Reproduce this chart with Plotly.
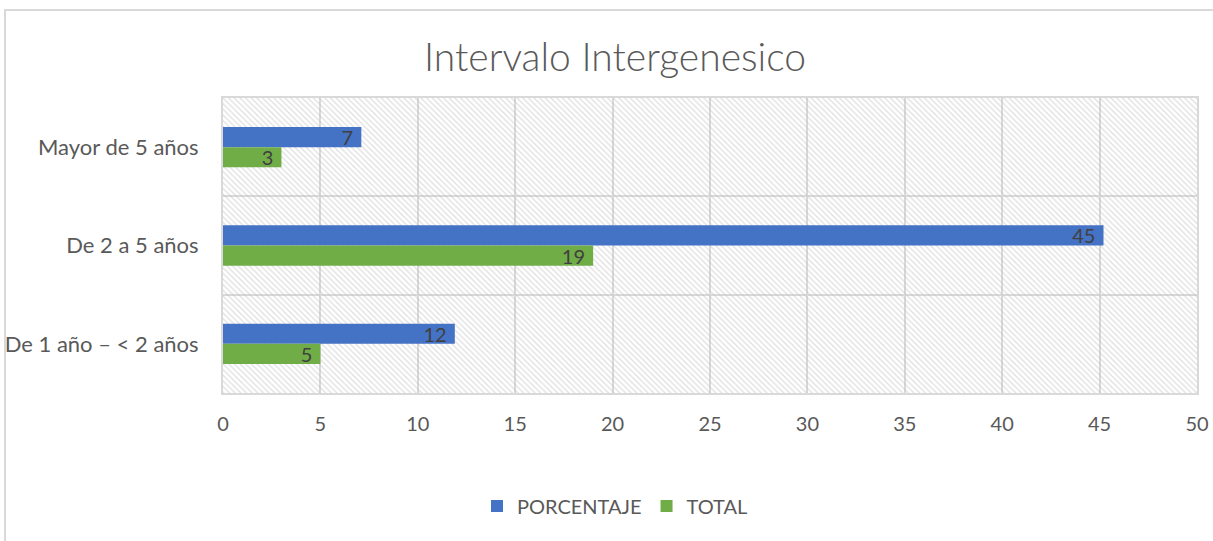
import plotly.graph_objects as go

categories = ["De 1 año – < 2 años", "De 2 a 5 años", "Mayor de 5 años"]
porcentaje = [11.9, 45.2, 7.1]
total = [5, 19, 3]
x_max = 50
x_tick_step = 5

FONT = "Lato"
TEXT = "#595959"
GRID = "#D9D9D9"
BLUE = "#4472C4"
GREEN = "#70AD47"

fig = go.Figure()

# hatched plot-area background
fig.add_trace(go.Bar(
    y=categories, x=[x_max] * len(categories), orientation="h",
    width=1, showlegend=False, hoverinfo="skip",
    marker=dict(color="rgba(0,0,0,0)", line=dict(width=0),
                pattern=dict(shape="\\", size=4, solidity=0.3,
                             fgcolor="#BDBDBD", bgcolor="rgba(0,0,0,0)",
                             fillmode="overlay")),
))

bar_w = 0.205
label_font = dict(family=FONT, size=20, color="#404040")
fig.add_trace(go.Bar(
    name="PORCENTAJE", y=categories, x=porcentaje, orientation="h",
    width=bar_w, offset=0, marker=dict(color=BLUE, line=dict(width=0)),
    texttemplate="%{x:.0f}\u00a0", textposition="inside", insidetextanchor="end",
    textangle=0, textfont=label_font, constraintext="none",
))
fig.add_trace(go.Bar(
    name="TOTAL", y=categories, x=total, orientation="h",
    width=bar_w, offset=-bar_w, marker=dict(color=GREEN, line=dict(width=0)),
    texttemplate="%{x:.0f}\u00a0", textposition="inside", insidetextanchor="end",
    textangle=0, textfont=label_font, constraintext="none",
))

fig.update_layout(
    width=1213, height=541,
    margin=dict(l=223, r=16, t=98, b=148, autoexpand=False),
    paper_bgcolor="white", plot_bgcolor="white",
    barmode="overlay",
    font=dict(family=FONT, color=TEXT, size=20),
    title=dict(text="Intervalo Intergenesico", x=(615 - 223) / 974, xref="paper",
               xanchor="center", y=1 - 57 / 541, yanchor="middle",
               font=dict(family=FONT, size=39, color=TEXT, weight=300)),
    legend=dict(orientation="h", x=(615 - 223) / 974, xanchor="center",
                y=-(506 - 393) / 295, yanchor="middle",
                font=dict(family=FONT, size=20, color=TEXT),
                traceorder="normal", itemwidth=30),
    xaxis=dict(range=[0, x_max], dtick=x_tick_step, tick0=0, automargin=False,
               showgrid=True, gridcolor=GRID, gridwidth=2,
               showline=True, linecolor=GRID, linewidth=2, mirror=True,
               zeroline=False, ticks="", ticklabelstandoff=12,
               tickfont=dict(family=FONT, size=20, color=TEXT)),
    yaxis=dict(type="category", categoryorder="array", categoryarray=categories,
               range=[-0.5, len(categories) - 0.5], tickson="boundaries",
               automargin=False,
               showgrid=True, gridcolor=GRID, gridwidth=2,
               showline=True, linecolor=GRID, linewidth=2, mirror=True,
               zeroline=False, ticks="", ticklabelstandoff=18,
               tickfont=dict(family=FONT, size=22, color=TEXT)),
    shapes=[dict(type="rect", xref="paper", yref="paper",
                 x0=(5 - 223) / 974, x1=1.1, y0=-1.0, y1=(393 - 10) / 295,
                 line=dict(color=GRID, width=2), fillcolor="rgba(0,0,0,0)",
                 layer="below")],
)

fig.write_html(
    "out.html",
    config={"displayModeBar": False},
    post_script="document.body.style.margin='0';document.body.style.overflow='hidden';",
)
